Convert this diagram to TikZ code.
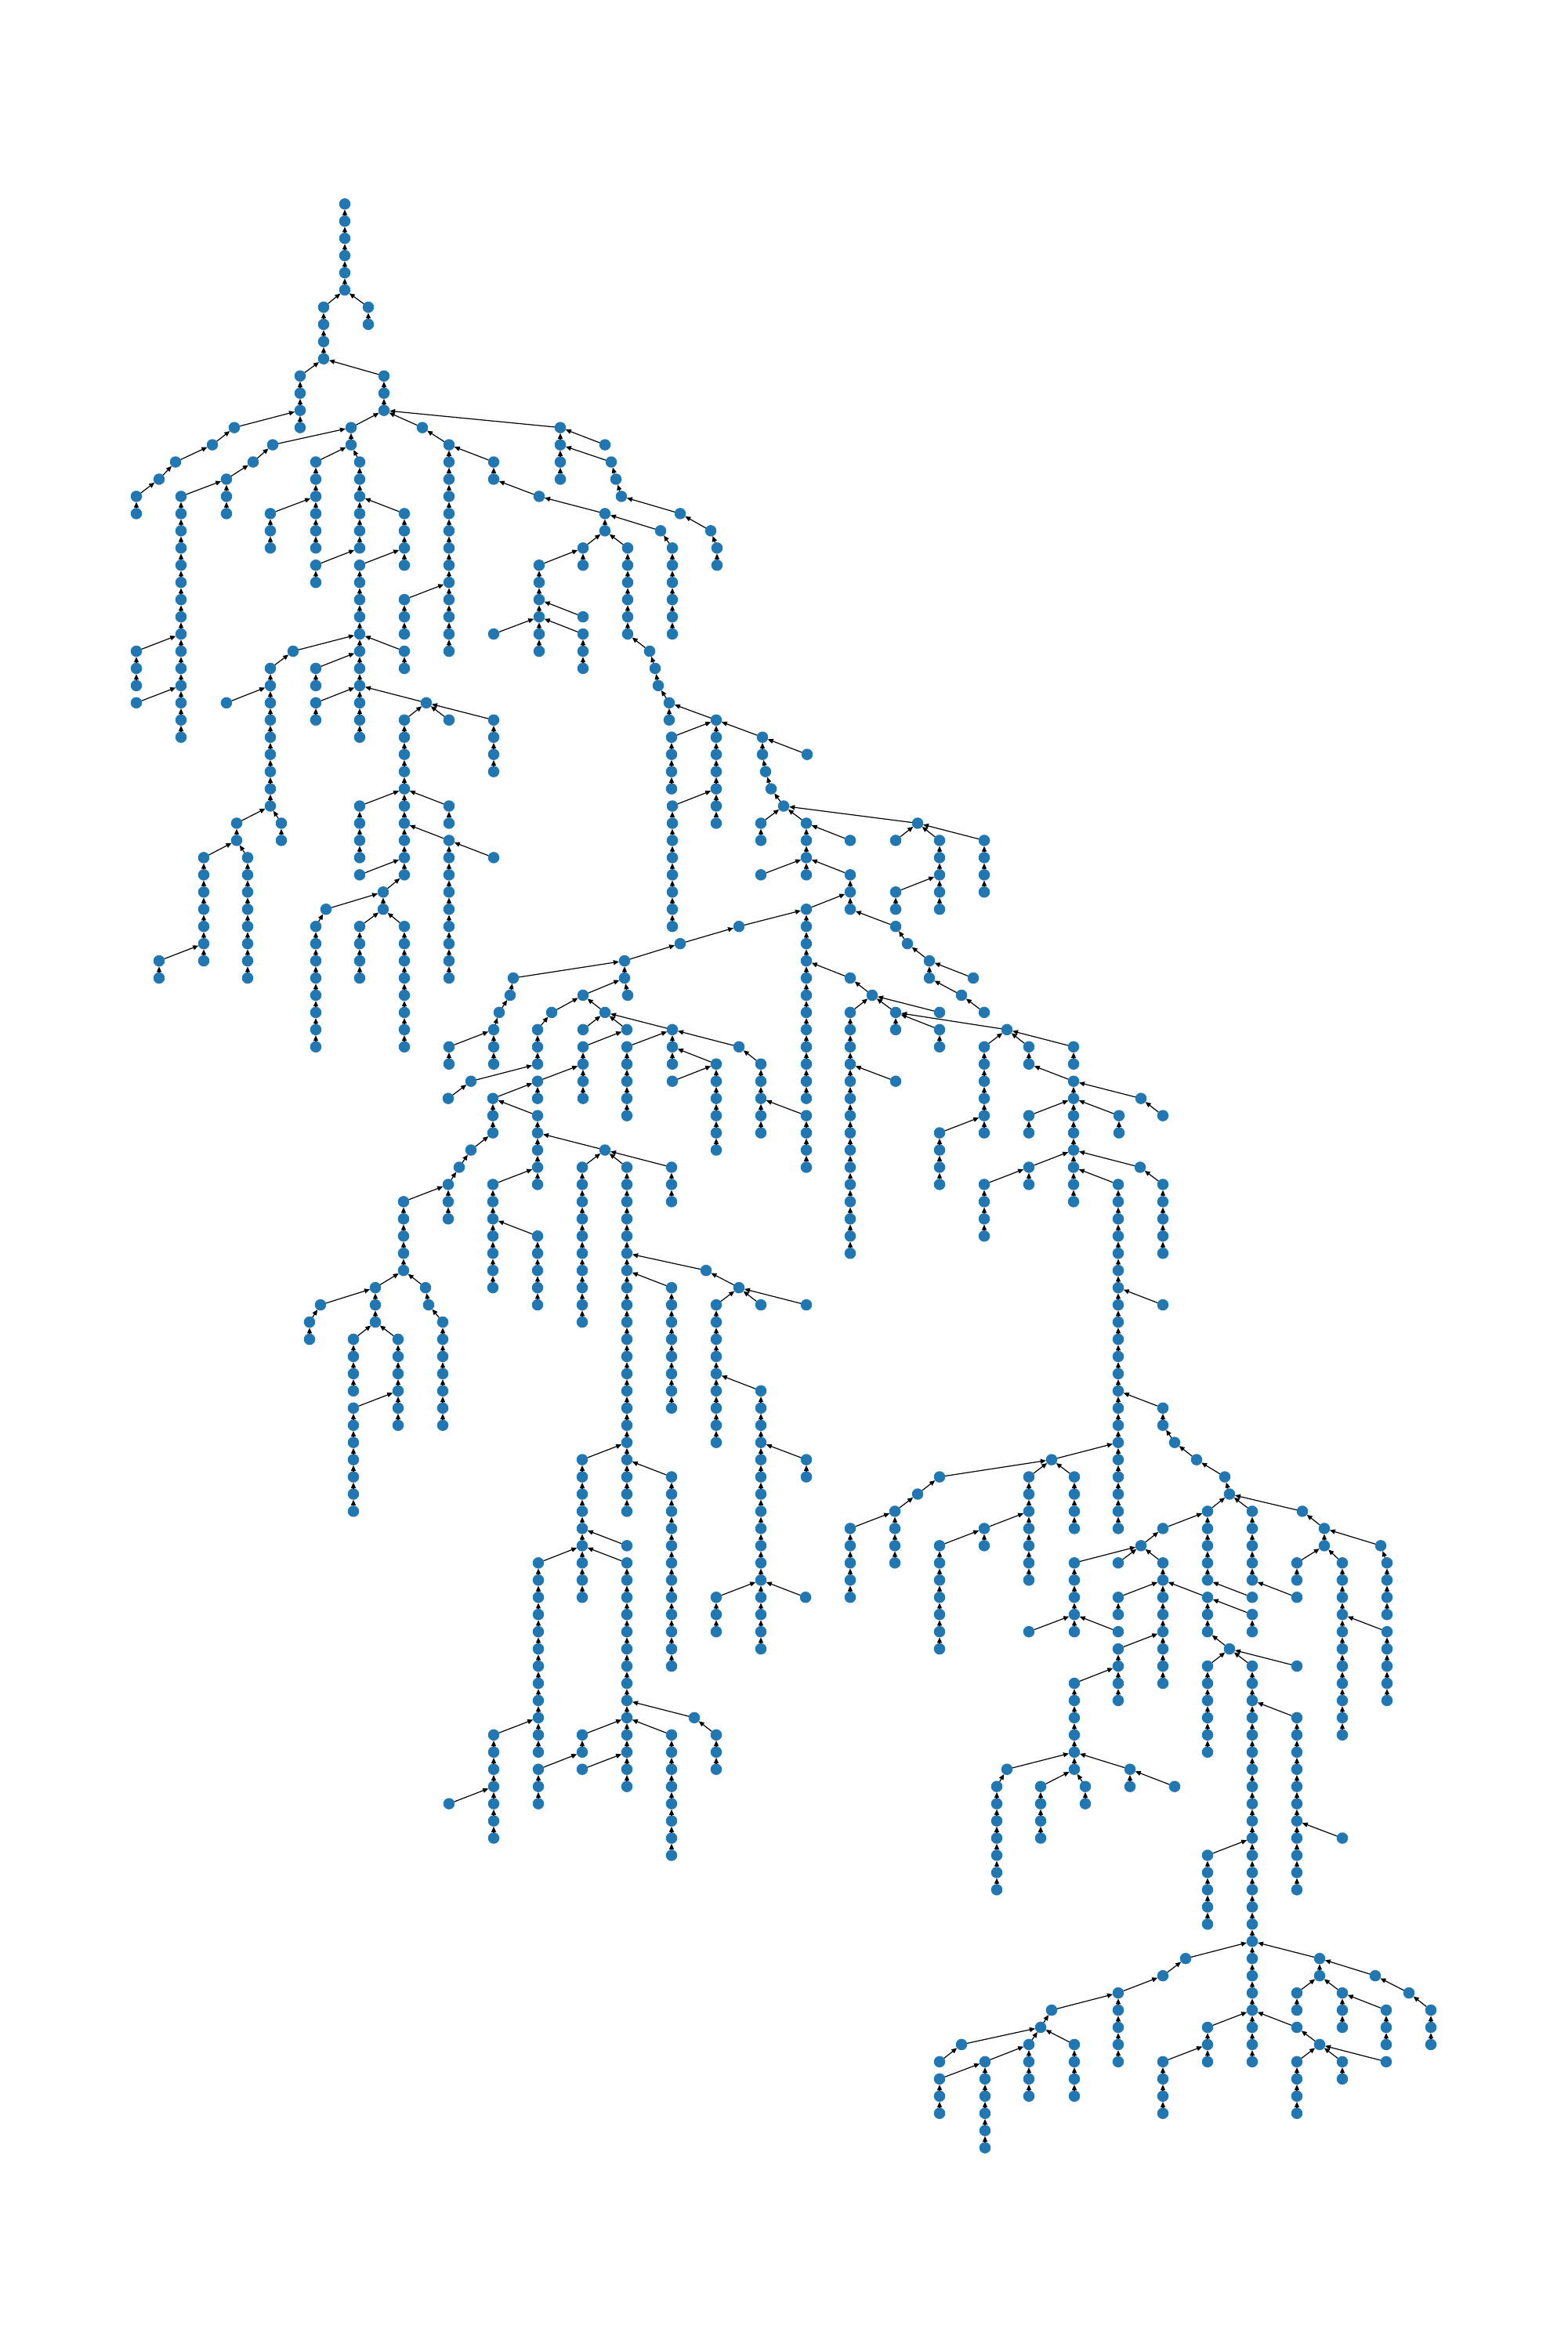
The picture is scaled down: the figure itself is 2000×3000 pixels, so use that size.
\documentclass[tikz,border=0pt]{standalone}
\usetikzlibrary{arrows.meta}
\definecolor{nxblue}{RGB}{31,119,180}
\tikzset{
  dot/.style={circle,fill=nxblue,draw=none,minimum size=14.5pt,inner sep=0pt,outer sep=0pt},
  arr/.style={-{Triangle[length=7pt,width=6pt]},line width=1.2pt,black}
}
\newcommand\Vn[2]{\node[dot] (p#1-#2) at (#1,{-260.26-21.95*#2}) {};}
\newcommand\Ed[4]{\draw[arr] (p#1-#2) -- (p#3-#4);}
\newcommand\Ch[3]{%
  \foreach \r in {#2,...,#3} {\Vn{#1}{\r}}%
  \pgfmathtruncatemacro\rlast{#3-1}%
  \foreach \r in {#2,...,\rlast} {\pgfmathtruncatemacro\s{\r+1}\draw[arr] (p#1-\s) -- (p#1-\r);}%
}
\begin{document}
\begin{tikzpicture}[x=1pt,y=1pt]
\useasboundingbox (0,0) rectangle (2000,-3000);
% ---------- nodes ----------
\Ch{440}{0}{5}
\Ch{413}{6}{9}
\Ch{470}{6}{7}
\Ch{383}{10}{13}
\Ch{490}{10}{12}
\Vn{299}{13}
\Ch{448}{13}{14}
\Vn{539}{13}
\Ch{715}{13}{16}
\Vn{271}{14}
\Vn{348}{14}
\Ch{573}{14}{26}
\Vn{772}{14}
\Vn{224}{15}
\Vn{323}{15}
\Ch{403}{15}{20}
\Ch{459}{15}{20}
\Ch{630}{15}{16}
\Vn{780}{15}
\Vn{203}{16}
\Ch{289}{16}{18}
\Vn{786}{16}
\Ch{174}{17}{18}
\Ch{231}{17}{31}
\Vn{688}{17}
\Vn{793}{17}
\Ch{345}{18}{20}
\Ch{516}{18}{21}
\Ch{772}{18}{19}
\Vn{868}{18}
\Vn{843}{19}
\Vn{907}{19}
\Ch{744}{20}{21}
\Ch{801}{20}{25}
\Ch{858}{20}{25}
\Ch{915}{20}{21}
\Ch{403}{21}{22}
\Ch{459}{21}{31}
\Ch{688}{21}{26}
\Ch{516}{23}{25}
\Vn{744}{24}
\Ch{744}{25}{27}
\Vn{630}{25}
\Ch{174}{26}{28}
\Vn{374}{26}
\Ch{516}{26}{27}
\Vn{829}{26}
\Ch{345}{27}{35}
\Ch{403}{27}{28}
\Vn{836}{27}
\Vn{840}{28}
\Vn{174}{29}
\Vn{289}{29}
\Ch{403}{29}{30}
\Vn{544}{29}
\Ch{854}{29}{30}
\Ch{516}{30}{39}
\Vn{573}{30}
\Ch{630}{30}{33}
\Ch{914}{30}{36}
\Ch{857}{31}{34}
\Ch{973}{31}{32}
\Vn{1030}{32}
\Vn{977}{33}
\Vn{984}{34}
\Ch{858}{35}{42}
\Vn{1000}{35}
\Ch{302}{36}{37}
\Ch{359}{36}{37}
\Ch{260}{38}{44}
\Ch{316}{38}{45}
\Ch{203}{44}{45}
\Ch{459}{35}{38}
\Ch{573}{35}{36}
\Ch{573}{37}{45}
\Vn{630}{38}
\Vn{459}{39}
\Ch{489}{40}{41}
\Vn{416}{41}
\Ch{403}{42}{49}
\Ch{459}{42}{45}
\Ch{516}{42}{49}
\Ch{971}{36}{37}
\Ch{1029}{36}{39}
\Vn{1171}{36}
\Vn{1085}{37}
\Vn{1143}{37}
\Ch{1199}{37}{41}
\Ch{1256}{37}{40}
\Vn{971}{39}
\Ch{1085}{39}{41}
\Ch{1143}{40}{41}
\Ch{1029}{41}{52}
\Vn{943}{42}
\Vn{1143}{42}
\Vn{1158}{43}
\Ch{1186}{44}{45}
\Vn{1242}{45}
\Vn{1227}{46}
\Vn{1256}{47}
\Vn{1085}{45}
\Vn{1113}{46}
\Ch{1085}{47}{61}
\Ch{1143}{47}{48}
\Vn{1199}{47}
\Ch{1199}{48}{49}
\Vn{1285}{48}
\Vn{1143}{51}
\Ch{1256}{49}{54}
\Ch{1313}{49}{50}
\Ch{1370}{49}{50}
\Ch{1370}{51}{58}
\Vn{1456}{52}
\Ch{1313}{53}{54}
\Ch{1428}{53}{54}
\Vn{1484}{53}
\Ch{1199}{54}{57}
\Ch{1313}{56}{57}
\Vn{1455}{56}
\Ch{1256}{57}{60}
\Ch{1427}{57}{77}
\Ch{1484}{57}{61}
\Vn{1484}{64}
\Ch{1484}{70}{71}
\Vn{1499}{72}
\Vn{1527}{73}
\Vn{1563}{74}
\Vn{1569}{75}
\Vn{1342}{73}
\Vn{1199}{74}
\Ch{1313}{74}{80}
\Ch{1371}{74}{77}
\Vn{1171}{75}
\Ch{1142}{76}{79}
\Ch{1085}{77}{81}
\Ch{1256}{77}{78}
\Ch{1199}{78}{84}
\Ch{1541}{76}{80}
\Ch{1598}{76}{80}
\Vn{1662}{76}
\Vn{1484}{77}
\Ch{1690}{77}{78}
\Vn{1762}{78}
\Vn{1456}{78}
\Ch{1371}{79}{83}
\Vn{1427}{79}
\Ch{1427}{81}{82}
\Vn{1427}{83}
\Ch{1427}{84}{87}
\Ch{1484}{79}{86}
\Ch{1541}{81}{83}
\Vn{1598}{81}
\Ch{1598}{82}{83}
\Ch{1655}{79}{80}
\Vn{1655}{81}
\Ch{1713}{79}{89}
\Ch{1770}{79}{82}
\Ch{1770}{83}{87}
\Vn{1313}{83}
\Vn{1569}{84}
\Ch{1541}{85}{90}
\Ch{1598}{85}{108}
\Vn{1655}{85}
\Ch{1371}{86}{91}
\Ch{1655}{88}{98}
\Vn{1285}{91}
\Ch{1442}{91}{92}
\Ch{1272}{92}{98}
\Ch{1328}{92}{95}
\Ch{1385}{92}{93}
\Vn{1499}{92}
\Vn{1713}{95}
\Ch{1541}{96}{100}
\Vn{1513}{102}
\Ch{1684}{102}{103}
\Vn{1484}{103}
\Vn{1755}{103}
\Ch{1427}{104}{108}
\Ch{1655}{104}{105}
\Ch{1713}{104}{106}
\Vn{1798}{104}
\Ch{1769}{105}{107}
\Ch{1826}{105}{107}
\Vn{1342}{105}
\Vn{1328}{106}
\Vn{1227}{107}
\Ch{1313}{107}{110}
\Ch{1371}{107}{110}
\Vn{1199}{108}
\Ch{1257}{108}{113}
\Ch{1199}{109}{111}
\Ch{1541}{106}{108}
\Ch{1484}{108}{111}
\Vn{1655}{106}
\Vn{1684}{107}
\Ch{1655}{108}{111}
\Ch{1713}{108}{109}
\Vn{1769}{108}
\Ch{573}{49}{50}
\Ch{630}{48}{50}
\Vn{637}{47}
\Vn{651}{46}
\Vn{655}{45}
\Vn{704}{47}
\Ch{686}{48}{50}
\Vn{601}{51}
\Ch{686}{51}{52}
\Vn{572}{52}
\Ch{629}{52}{54}
\Ch{686}{53}{57}
\Vn{601}{55}
\Vn{586}{56}
\Ch{572}{57}{59}
\Ch{515}{58}{62}
\Ch{629}{57}{63}
\Ch{686}{60}{64}
\Ch{479}{63}{65}
\Vn{543}{63}
\Vn{409}{64}
\Vn{547}{64}
\Ch{395}{65}{66}
\Ch{565}{65}{71}
\Ch{451}{66}{69}
\Ch{508}{66}{71}
\Ch{451}{70}{76}
\Vn{772}{55}
\Ch{743}{56}{65}
\Ch{800}{56}{76}
\Ch{857}{56}{58}
\Ch{857}{63}{70}
\Ch{743}{73}{81}
\Ch{857}{74}{85}
\Ch{914}{50}{55}
\Ch{971}{50}{54}
\Vn{943}{49}
\Ch{1029}{53}{56}
\Vn{901}{62}
\Vn{943}{63}
\Ch{914}{64}{72}
\Vn{971}{64}
\Vn{1029}{64}
\Ch{971}{69}{84}
\Ch{1029}{73}{74}
\Vn{868}{43}
\Ch{797}{44}{45}
\Vn{744}{46}
\Vn{801}{46}
\Vn{772}{47}
\Vn{744}{48}
\Vn{800}{48}
\Ch{858}{48}{50}
\Ch{744}{49}{52}
\Ch{800}{49}{53}
\Vn{858}{51}
\Vn{800}{78}
\Ch{800}{79}{92}
\Ch{687}{79}{90}
\Vn{886}{88}
\Ch{914}{89}{91}
\Ch{857}{89}{96}
\Ch{743}{89}{90}
\Ch{687}{91}{93}
\Vn{743}{91}
\Ch{630}{89}{95}
\Vn{573}{93}
\Ch{914}{81}{83}
\Vn{1028}{81}
% ---------- edges (child -> parent) ----------
\Ed{413}{6}{440}{5}
\Ed{470}{6}{440}{5}
\Ed{383}{10}{413}{9}
\Ed{490}{10}{413}{9}
\Ed{299}{13}{383}{12}
\Ed{448}{13}{490}{12}
\Ed{539}{13}{490}{12}
\Ed{715}{13}{490}{12}
\Ed{271}{14}{299}{13}
\Ed{348}{14}{448}{13}
\Ed{573}{14}{539}{13}
\Ed{772}{14}{715}{13}
\Ed{224}{15}{271}{14}
\Ed{323}{15}{348}{14}
\Ed{403}{15}{448}{14}
\Ed{459}{15}{448}{14}
\Ed{630}{15}{573}{14}
\Ed{780}{15}{715}{14}
\Ed{203}{16}{224}{15}
\Ed{289}{16}{323}{15}
\Ed{786}{16}{780}{15}
\Ed{174}{17}{203}{16}
\Ed{231}{17}{289}{16}
\Ed{688}{17}{630}{16}
\Ed{793}{17}{786}{16}
\Ed{345}{18}{403}{17}
\Ed{516}{18}{459}{17}
\Ed{772}{18}{688}{17}
\Ed{868}{18}{793}{17}
\Ed{843}{19}{772}{18}
\Ed{907}{19}{868}{18}
\Ed{744}{20}{772}{19}
\Ed{801}{20}{772}{19}
\Ed{858}{20}{843}{19}
\Ed{915}{20}{907}{19}
\Ed{403}{21}{459}{20}
\Ed{459}{21}{516}{20}
\Ed{688}{21}{744}{20}
\Ed{516}{23}{573}{22}
\Ed{744}{24}{688}{23}
\Ed{744}{25}{688}{24}
\Ed{630}{25}{688}{24}
\Ed{174}{26}{231}{25}
\Ed{374}{26}{459}{25}
\Ed{516}{26}{459}{25}
\Ed{829}{26}{801}{25}
\Ed{345}{27}{374}{26}
\Ed{403}{27}{459}{26}
\Ed{836}{27}{829}{26}
\Ed{840}{28}{836}{27}
\Ed{174}{29}{231}{28}
\Ed{289}{29}{345}{28}
\Ed{403}{29}{459}{28}
\Ed{544}{29}{459}{28}
\Ed{854}{29}{840}{28}
\Ed{516}{30}{544}{29}
\Ed{573}{30}{544}{29}
\Ed{630}{30}{544}{29}
\Ed{914}{30}{854}{29}
\Ed{857}{31}{914}{30}
\Ed{973}{31}{914}{30}
\Ed{1030}{32}{973}{31}
\Ed{977}{33}{973}{32}
\Ed{984}{34}{977}{33}
\Ed{858}{35}{914}{34}
\Ed{1000}{35}{984}{34}
\Ed{302}{36}{345}{35}
\Ed{359}{36}{345}{35}
\Ed{260}{38}{302}{37}
\Ed{316}{38}{302}{37}
\Ed{203}{44}{260}{43}
\Ed{459}{35}{516}{34}
\Ed{573}{35}{516}{34}
\Ed{573}{37}{516}{36}
\Ed{630}{38}{573}{37}
\Ed{459}{39}{516}{38}
\Ed{489}{40}{516}{39}
\Ed{416}{41}{489}{40}
\Ed{403}{42}{416}{41}
\Ed{459}{42}{489}{41}
\Ed{516}{42}{489}{41}
\Ed{971}{36}{1000}{35}
\Ed{1029}{36}{1000}{35}
\Ed{1171}{36}{1000}{35}
\Ed{1085}{37}{1029}{36}
\Ed{1143}{37}{1171}{36}
\Ed{1199}{37}{1171}{36}
\Ed{1256}{37}{1171}{36}
\Ed{971}{39}{1029}{38}
\Ed{1085}{39}{1029}{38}
\Ed{1143}{40}{1199}{39}
\Ed{1029}{41}{1085}{40}
\Ed{943}{42}{1029}{41}
\Ed{1143}{42}{1085}{41}
\Ed{1158}{43}{1143}{42}
\Ed{1186}{44}{1158}{43}
\Ed{1242}{45}{1186}{44}
\Ed{1227}{46}{1186}{45}
\Ed{1256}{47}{1227}{46}
\Ed{1085}{45}{1029}{44}
\Ed{1113}{46}{1085}{45}
\Ed{1085}{47}{1113}{46}
\Ed{1143}{47}{1113}{46}
\Ed{1199}{47}{1113}{46}
\Ed{1199}{48}{1143}{47}
\Ed{1285}{48}{1143}{47}
\Ed{1143}{51}{1085}{50}
\Ed{1256}{49}{1285}{48}
\Ed{1313}{49}{1285}{48}
\Ed{1370}{49}{1285}{48}
\Ed{1370}{51}{1313}{50}
\Ed{1456}{52}{1370}{51}
\Ed{1313}{53}{1370}{52}
\Ed{1428}{53}{1370}{52}
\Ed{1484}{53}{1456}{52}
\Ed{1199}{54}{1256}{53}
\Ed{1313}{56}{1370}{55}
\Ed{1455}{56}{1370}{55}
\Ed{1256}{57}{1313}{56}
\Ed{1427}{57}{1370}{56}
\Ed{1484}{57}{1455}{56}
\Ed{1484}{64}{1427}{63}
\Ed{1484}{70}{1427}{69}
\Ed{1499}{72}{1484}{71}
\Ed{1527}{73}{1499}{72}
\Ed{1563}{74}{1527}{73}
\Ed{1569}{75}{1563}{74}
\Ed{1342}{73}{1427}{72}
\Ed{1199}{74}{1342}{73}
\Ed{1313}{74}{1342}{73}
\Ed{1371}{74}{1342}{73}
\Ed{1171}{75}{1199}{74}
\Ed{1142}{76}{1171}{75}
\Ed{1085}{77}{1142}{76}
\Ed{1256}{77}{1313}{76}
\Ed{1199}{78}{1256}{77}
\Ed{1541}{76}{1569}{75}
\Ed{1598}{76}{1569}{75}
\Ed{1662}{76}{1569}{75}
\Ed{1484}{77}{1541}{76}
\Ed{1690}{77}{1662}{76}
\Ed{1762}{78}{1690}{77}
\Ed{1456}{78}{1484}{77}
\Ed{1371}{79}{1456}{78}
\Ed{1427}{79}{1456}{78}
\Ed{1484}{79}{1456}{78}
\Ed{1427}{81}{1484}{80}
\Ed{1427}{83}{1371}{82}
\Ed{1427}{84}{1484}{83}
\Ed{1541}{81}{1484}{80}
\Ed{1598}{81}{1541}{80}
\Ed{1598}{82}{1541}{81}
\Ed{1655}{79}{1690}{78}
\Ed{1655}{81}{1598}{80}
\Ed{1713}{79}{1690}{78}
\Ed{1770}{79}{1762}{78}
\Ed{1770}{83}{1713}{82}
\Ed{1313}{83}{1371}{82}
\Ed{1569}{84}{1541}{83}
\Ed{1541}{85}{1569}{84}
\Ed{1598}{85}{1569}{84}
\Ed{1655}{85}{1569}{84}
\Ed{1371}{86}{1427}{85}
\Ed{1655}{88}{1598}{87}
\Ed{1285}{91}{1371}{90}
\Ed{1442}{91}{1371}{90}
\Ed{1272}{92}{1285}{91}
\Ed{1328}{92}{1371}{91}
\Ed{1385}{92}{1371}{91}
\Ed{1499}{92}{1442}{91}
\Ed{1713}{95}{1655}{94}
\Ed{1541}{96}{1598}{95}
\Ed{1513}{102}{1598}{101}
\Ed{1684}{102}{1598}{101}
\Ed{1484}{103}{1513}{102}
\Ed{1755}{103}{1684}{102}
\Ed{1427}{104}{1484}{103}
\Ed{1655}{104}{1684}{103}
\Ed{1713}{104}{1684}{103}
\Ed{1798}{104}{1755}{103}
\Ed{1769}{105}{1713}{104}
\Ed{1826}{105}{1798}{104}
\Ed{1342}{105}{1427}{104}
\Ed{1328}{106}{1342}{105}
\Ed{1227}{107}{1328}{106}
\Ed{1313}{107}{1328}{106}
\Ed{1371}{107}{1328}{106}
\Ed{1199}{108}{1227}{107}
\Ed{1257}{108}{1313}{107}
\Ed{1199}{109}{1257}{108}
\Ed{1541}{106}{1598}{105}
\Ed{1484}{108}{1541}{107}
\Ed{1655}{106}{1598}{105}
\Ed{1684}{107}{1655}{106}
\Ed{1655}{108}{1684}{107}
\Ed{1713}{108}{1684}{107}
\Ed{1769}{108}{1684}{107}
\Ed{573}{49}{630}{48}
\Ed{630}{48}{637}{47}
\Ed{637}{47}{651}{46}
\Ed{651}{46}{655}{45}
\Ed{655}{45}{797}{44}
\Ed{704}{47}{744}{46}
\Ed{686}{48}{704}{47}
\Ed{601}{51}{686}{50}
\Ed{686}{51}{744}{50}
\Ed{572}{52}{601}{51}
\Ed{629}{52}{686}{51}
\Ed{686}{53}{629}{52}
\Ed{601}{55}{629}{54}
\Ed{586}{56}{601}{55}
\Ed{572}{57}{586}{56}
\Ed{515}{58}{572}{57}
\Ed{629}{57}{686}{56}
\Ed{686}{60}{629}{59}
\Ed{479}{63}{515}{62}
\Ed{543}{63}{515}{62}
\Ed{409}{64}{479}{63}
\Ed{547}{64}{543}{63}
\Ed{395}{65}{409}{64}
\Ed{565}{65}{547}{64}
\Ed{451}{66}{479}{65}
\Ed{508}{66}{479}{65}
\Ed{451}{70}{508}{69}
\Ed{772}{55}{686}{54}
\Ed{743}{56}{772}{55}
\Ed{800}{56}{772}{55}
\Ed{857}{56}{772}{55}
\Ed{857}{63}{800}{62}
\Ed{743}{73}{800}{72}
\Ed{857}{74}{800}{73}
\Ed{914}{50}{858}{49}
\Ed{971}{50}{943}{49}
\Ed{943}{49}{858}{48}
\Ed{1029}{53}{971}{52}
\Ed{901}{62}{800}{61}
\Ed{943}{63}{901}{62}
\Ed{914}{64}{943}{63}
\Ed{971}{64}{943}{63}
\Ed{1029}{64}{943}{63}
\Ed{971}{69}{914}{68}
\Ed{1029}{73}{971}{72}
\Ed{868}{43}{943}{42}
\Ed{797}{44}{868}{43}
\Ed{744}{46}{797}{45}
\Ed{801}{46}{797}{45}
\Ed{772}{47}{744}{46}
\Ed{744}{48}{772}{47}
\Ed{800}{48}{772}{47}
\Ed{858}{48}{772}{47}
\Ed{744}{49}{800}{48}
\Ed{800}{49}{858}{48}
\Ed{858}{51}{914}{50}
\Ed{800}{78}{743}{77}
\Ed{800}{79}{743}{78}
\Ed{687}{79}{743}{78}
\Ed{886}{88}{800}{87}
\Ed{914}{89}{886}{88}
\Ed{857}{89}{800}{88}
\Ed{743}{89}{800}{88}
\Ed{687}{91}{743}{90}
\Ed{743}{91}{800}{90}
\Ed{630}{89}{687}{88}
\Ed{573}{93}{630}{92}
\Ed{914}{81}{971}{80}
\Ed{1028}{81}{971}{80}
\end{tikzpicture}
\end{document}
